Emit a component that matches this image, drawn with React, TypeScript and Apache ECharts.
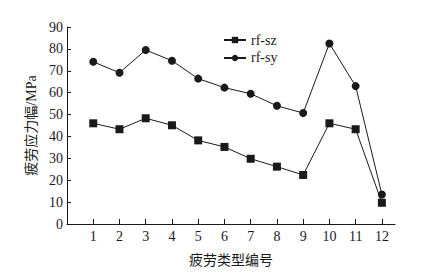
import React, { useEffect, useRef } from "react";
import * as echarts from "echarts";

const categories = [1, 2, 3, 4, 5, 6, 7, 8, 9, 10, 11, 12];
const rfSz = [46.0, 43.3, 48.3, 45.1, 38.2, 35.2, 29.8, 26.2, 22.4, 46.0, 43.3, 9.7];
const rfSy = [74.1, 69.1, 79.5, 74.6, 66.4, 62.3, 59.5, 54.0, 50.7, 82.5, 63.0, 13.5];
const seriesNames = ["rf-sz", "rf-sy"];
const xName = "疲劳类型编号";
const yName = "疲劳应力幅/MPa";

const FONT = "'Liberation Serif', 'Times New Roman', 'Noto Sans CJK SC', serif";

export default function App() {
  const ref = useRef<HTMLDivElement>(null);
  useEffect(() => {
    if (!ref.current) return;
    const chart = echarts.init(ref.current, undefined, { renderer: "svg" });
    const color = "#1a1a1a";
    chart.setOption({
      animation: false,
      backgroundColor: "#fff",
      textStyle: { fontFamily: FONT, color },
      grid: { left: 67, right: 48, top: 27, bottom: 52 },
      legend: {
        left: 218,
        top: 28,
        orient: "vertical",
        itemWidth: 22,
        itemHeight: 8,
        itemGap: 4,
        textStyle: { fontFamily: FONT, fontSize: 14, color },
        data: seriesNames,
      },
      xAxis: {
        type: "value",
        min: 0,
        max: 12.5,
        interval: 1,
        name: xName,
        nameLocation: "middle",
        nameGap: 29,
        nameTextStyle: { fontFamily: FONT, fontSize: 14, color },
        splitLine: { show: false },
        axisLine: { lineStyle: { color, width: 1 } },
        axisTick: {
          inside: true,
          length: 5,
          lineStyle: { color },
          customValues: categories,
        },
        axisLabel: {
          fontFamily: FONT,
          fontSize: 14,
          color,
          margin: 5,
          customValues: categories,
        },
      },
      yAxis: {
        type: "value",
        min: 0,
        max: 90,
        interval: 10,
        name: yName,
        nameLocation: "middle",
        nameGap: 25,
        nameTextStyle: { fontFamily: FONT, fontSize: 14, color },
        splitLine: { show: false },
        axisLine: { show: true, lineStyle: { color, width: 1 } },
        axisTick: { show: true, inside: true, length: 4, lineStyle: { color } },
        axisLabel: { fontFamily: FONT, fontSize: 14, color, margin: 4 },
      },
      series: [
        {
          name: seriesNames[0],
          type: "line",
          data: categories.map((c, i) => [c, rfSz[i]]),
          symbol: "rect",
          symbolSize: 8,
          itemStyle: { color },
          lineStyle: { color, width: 1 },
        },
        {
          name: seriesNames[1],
          type: "line",
          data: categories.map((c, i) => [c, rfSy[i]]),
          symbol: "circle",
          symbolSize: 8,
          itemStyle: { color },
          lineStyle: { color, width: 1 },
        },
      ],
    });
    return () => chart.dispose();
  }, []);
  return <div ref={ref} style={{ width: 443, height: 276, marginLeft: -8, marginTop: -8 }} />;
}
